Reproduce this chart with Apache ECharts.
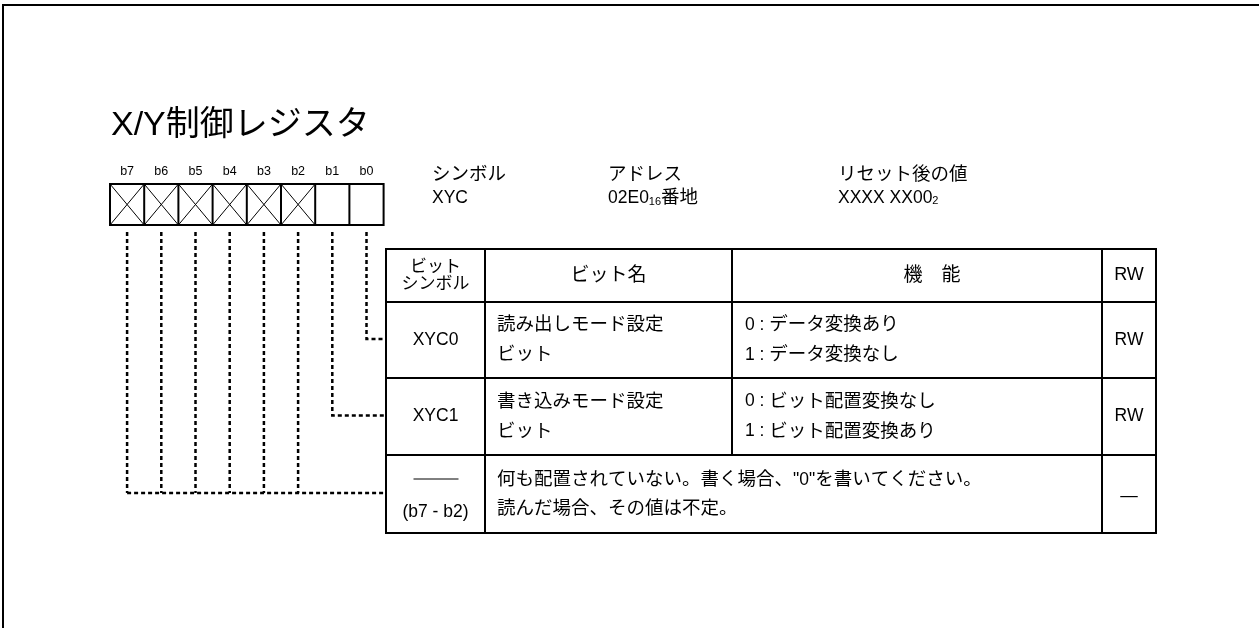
<!DOCTYPE html>
<html>
<head>
<meta charset="utf-8">
<script src="https://cdn.jsdelivr.net/npm/echarts@6/dist/echarts.min.js"></script>
<style>html,body{margin:0;padding:0;background:#fff;}#c{width:1259px;height:628px;}</style>
</head>
<body>
<div id="c"></div>
<script>
// ---- content ----
const title = 'X/Y制御レジスタ';
const bitLabels = ['b7', 'b6', 'b5', 'b4', 'b3', 'b2', 'b1', 'b0'];
const reservedBits = [true, true, true, true, true, true, false, false];
const infoHeaders = ['シンボル', 'アドレス', 'リセット後の値'];
const infoValues = ['{n|XYC}', '{n|02E0}{s|16}{c|番地}', '{n|XXXX XX00}{s|2}'];
const tableHeaders = ['ビット\nシンボル', 'ビット名', '機　能', 'RW'];
const rowSymbols = ['XYC0', 'XYC1', '(b7 - b2)'];
const rowNames = [['読み出しモード設定', 'ビット'], ['書き込みモード設定', 'ビット'], null];
const rowFunctions = [['0 : データ変換あり', '1 : データ変換なし'], ['0 : ビット配置変換なし', '1 : ビット配置変換あり'],
  ['何も配置されていない。書く場合、"0"を書いてください。', '読んだ場合、その値は不定。']];
const rowRW = ['RW', 'RW', '—'];
const rowBits = [[0], [1], [7, 6, 5, 4, 3, 2]];

// ---- layout ----
const FF = '"Liberation Sans", Arial, "Noto Sans CJK JP", sans-serif';
const regX0 = 110, cellW = 34.2, regTop = 184, regBot = 225;
const colX = [386, 485, 732, 1102, 1156];
const rowY = [249, 302, 378, 455, 533];
const infoX = [432, 608, 838];
const LAT = 17.5, CJK = 18.5;

const els = [];
function mix(s) {
  return s.replace(/([\u3000-\u9fff\uff00-\uffef]+)|([^\u3000-\u9fff\uff00-\uffef]+)/g,
    function (m, c, l) { return c ? '{c|' + c + '}' : '{l|' + l + '}'; });
}
function richStyles(lat, cjk, lh) {
  const o = { c: { fontSize: cjk, fontFamily: FF, fill: '#000' }, l: { fontSize: lat, fontFamily: FF, fill: '#000' },
    n: { fontSize: lat, fontFamily: FF, fill: '#000' },
    s: { fontSize: 11, fontFamily: FF, fill: '#000', verticalAlign: 'bottom' } };
  if (lh) { o.c.lineHeight = lh; o.l.lineHeight = lh; }
  return o;
}
function txt(x, y, text, size, align, extra) {
  els.push({ type: 'text', z: 10, style: Object.assign({ text: text, x: x, y: y, fill: '#000',
    font: size + 'px ' + FF, align: align || 'left', verticalAlign: 'middle' }, extra || {}) });
}
function mtxt(x, y, text, align, lat, cjk, lh) {
  txt(x, y, mix(text), lat || LAT, align, { rich: richStyles(lat || LAT, cjk || CJK, lh) });
}
function line(x1, y1, x2, y2, w, dash) {
  els.push({ type: 'line', z: 6, shape: { x1: x1, y1: y1, x2: x2, y2: y2 },
    style: { stroke: '#000', lineWidth: w, lineDash: dash || null } });
}
function poly(points, w, dash) {
  els.push({ type: 'polyline', z: 6, shape: { points: points },
    style: { stroke: '#000', lineWidth: w, lineDash: dash || null, fill: null } });
}

// outer frame
line(2, 5, 1259, 5, 2);
line(3, 5, 3, 628, 2);

// title
txt(111, 126, title, 34, 'left');

// register bits
bitLabels.forEach(function (b, i) {
  const x = regX0 + i * cellW;
  txt(x + cellW / 2, 172, b, 12.5, 'center');
  if (reservedBits[i]) {
    line(x, regTop, x + cellW, regBot, 1);
    line(x + cellW, regTop, x, regBot, 1);
  }
});
els.push({ type: 'rect', z: 7, shape: { x: regX0, y: regTop, width: cellW * 8, height: regBot - regTop },
  style: { stroke: '#000', lineWidth: 2, fill: null } });
for (let i = 1; i < 8; i++) line(regX0 + i * cellW, regTop, regX0 + i * cellW, regBot, 2);

// info
infoHeaders.forEach(function (h, i) {
  mtxt(infoX[i], 175, h, 'left');
  txt(infoX[i], 198, infoValues[i], LAT, 'left', { rich: richStyles(LAT, CJK) });
});

// connectors
const dash = [4, 3];
rowBits.forEach(function (bits, r) {
  const yMid = r < 2 ? (rowY[r + 1] + rowY[r + 2]) / 2 - 1 : 493;
  bits.forEach(function (b) {
    const x = regX0 + (7 - b) * cellW + cellW / 2;
    if (bits.length === 1) {
      poly([[x, 232], [x, yMid], [colX[0], yMid]], 2.5, dash);
    } else {
      line(x, 232, x, yMid, 2.5, dash);
    }
  });
  if (bits.length > 1) {
    const xs = regX0 + (7 - bits[0]) * cellW + cellW / 2;
    line(xs, 493, colX[0], 493, 2.5, dash);
  }
});

// table
els.push({ type: 'rect', shape: { x: colX[0], y: rowY[0], width: colX[4] - colX[0], height: rowY[4] - rowY[0] },
  style: { stroke: '#000', lineWidth: 2, fill: '#fff' }, z: 5 });
for (let r = 1; r < 4; r++) line(colX[0], rowY[r], colX[4], rowY[r], 2);
line(colX[1], rowY[0], colX[1], rowY[4], 2);
line(colX[2], rowY[0], colX[2], rowY[3], 2);
line(colX[3], rowY[0], colX[3], rowY[4], 2);

// header
const hy = (rowY[0] + rowY[1]) / 2;
mtxt((colX[0] + colX[1]) / 2, hy, tableHeaders[0], 'center', 16, 17, 17);
mtxt((colX[1] + colX[2]) / 2, hy, tableHeaders[1], 'center', 18, 19);
mtxt(932, hy, tableHeaders[2], 'center', 18, 19);
mtxt((colX[3] + colX[4]) / 2, hy, tableHeaders[3], 'center', 18, 19);

// rows
for (let r = 0; r < 3; r++) {
  const y0 = rowY[r + 1], y1 = rowY[r + 2], ym = (y0 + y1) / 2;
  const l1 = ym - 15, l2 = ym + 15;
  if (r < 2) {
    mtxt((colX[0] + colX[1]) / 2, ym, rowSymbols[r], 'center');
    mtxt(colX[1] + 12, l1, rowNames[r][0], 'left');
    mtxt(colX[1] + 12, l2, rowNames[r][1], 'left');
    mtxt(colX[2] + 13, l1, rowFunctions[r][0], 'left');
    mtxt(colX[2] + 13, l2, rowFunctions[r][1], 'left');
    mtxt((colX[3] + colX[4]) / 2, ym, rowRW[r], 'center');
  } else {
    const cx = (colX[0] + colX[1]) / 2;
    line(cx - 22, ym - 15, cx + 23, ym - 15, 1);
    els[els.length - 1].z = 10;
    mtxt(cx, ym + 18, rowSymbols[r], 'center');
    mtxt(colX[1] + 12, l1 + 1, rowFunctions[r][0], 'left');
    mtxt(colX[1] + 12, l2, rowFunctions[r][1], 'left');
    mtxt((colX[3] + colX[4]) / 2, ym + 2, rowRW[r], 'center');
  }
}

const chart = echarts.init(document.getElementById('c'), null, { renderer: 'canvas' });
chart.setOption({ backgroundColor: '#fff', animation: false, graphic: { elements: els } });
</script>
</body>
</html>
